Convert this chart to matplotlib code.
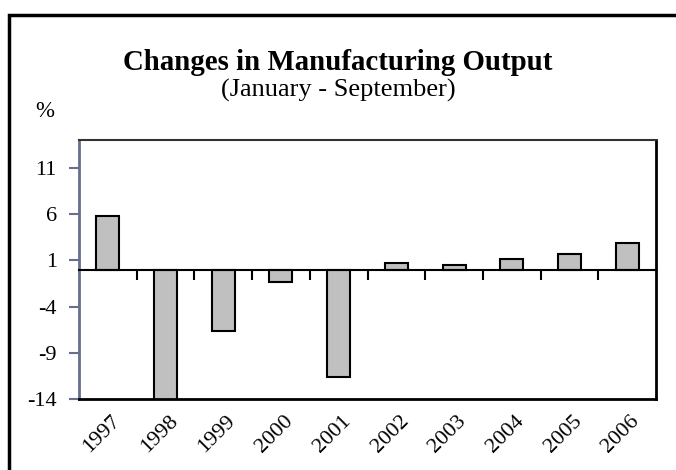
import matplotlib
matplotlib.use('Agg')
import matplotlib.pyplot as plt
from matplotlib.patches import Rectangle
from matplotlib.transforms import blended_transform_factory, offset_copy

years = ['1997', '1998', '1999', '2000', '2001', '2002', '2003', '2004', '2005', '2006']
changes = [5.8, -14.2, -6.6, -1.4, -11.6, 0.65, 0.45, 1.1, 1.65, 2.9]
yticks = [-14, -9, -4, 1, 6, 11]

plt.rcParams['font.family'] = ['Liberation Serif', 'DejaVu Serif']
plt.rcParams['axes.unicode_minus'] = False
slate = '#66708c'

fig = plt.figure(figsize=(6.76, 4.70), dpi=100)
ax = fig.add_axes([79/676, 1 - 399/470, 577/676, 259/470])

x = list(range(len(years)))
ax.bar(x, changes, width=0.4, color='#c0c0c0', edgecolor='black', linewidth=1.5, zorder=2)

ax.set_xlim(-0.5, len(years) - 0.5)
ax.set_ylim(-14, 14)
ax.set_yticks(yticks)
ax.tick_params(axis='y', direction='out', length=7, width=1.5, color=slate, labelsize=16, pad=9)

# x axis sits on zero, with ticks between the bars
ax.spines['bottom'].set_position(('data', 0))
ax.spines['bottom'].set_linewidth(1.5)
ax.set_xticks([])
ax.set_xticks([i + 0.5 for i in x[:-1]], minor=True)
ax.tick_params(axis='x', which='minor', direction='out', length=7, width=1.5, color='black')
ax.tick_params(axis='x', which='major', length=0, labelbottom=False)

ax.spines['left'].set_color(slate)
ax.spines['left'].set_linewidth(2)
ax.spines['top'].set_color('#333333')
ax.spines['top'].set_linewidth(1.5)
ax.spines['right'].set_color('black')
ax.spines['right'].set_linewidth(2)
ax.plot([0, 1], [0, 0], transform=ax.transAxes, color='black', lw=2, clip_on=False, zorder=5)

# year labels under the plot frame
trans = offset_copy(blended_transform_factory(ax.transData, ax.transAxes), fig=fig, x=0, y=-13, units='dots')
for i, yr in enumerate(years):
    ax.text(i + 0.28, 0, yr, transform=trans, rotation=45, ha='right', va='top', fontsize=16)

fig.text(0.5, 1 - 70/470, 'Changes in Manufacturing Output', ha='center', va='baseline',
         fontsize=20.8, fontweight='bold')
fig.text(0.5, 1 - 97/470, '(January - September)', ha='center', va='baseline', fontsize=19)
fig.text(45/676, 1 - 111/470, '%', ha='center', va='center', fontsize=16.5)

# outer frame around the chart
fig.patches.append(Rectangle((9/676, -0.1), 1.2, 1 - 15/470 + 0.1, transform=fig.transFigure,
                             fill=False, edgecolor='black', linewidth=2.5))

fig.savefig('out.png', dpi=100)
